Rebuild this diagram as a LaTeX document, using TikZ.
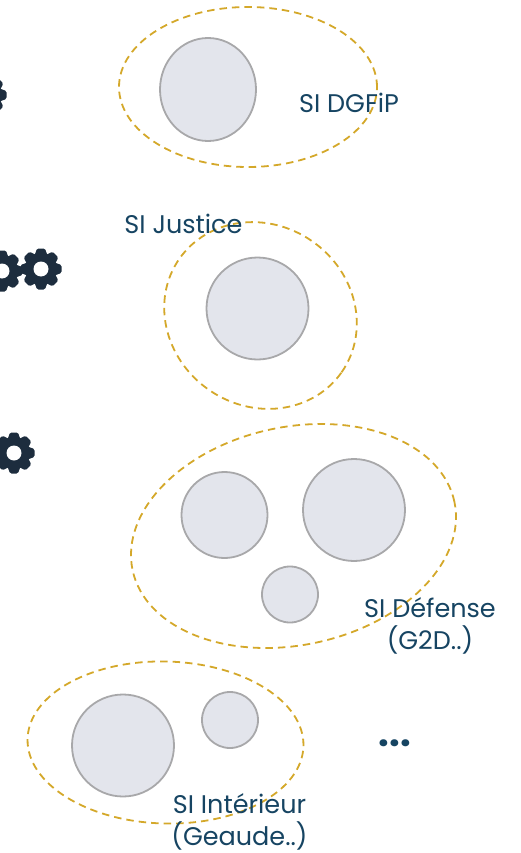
\documentclass[tikz,border=0pt]{standalone}
\usepackage{fontspec}
\setmainfont{Poppins}
\usepackage{xcolor}
\usetikzlibrary{shapes.geometric}
\definecolor{mygold}{RGB}{212,168,42}
\definecolor{mygrey}{RGB}{227,229,236}
\definecolor{myline}{RGB}{168,168,170}
\definecolor{mytext}{RGB}{22,68,98}
\definecolor{mygear}{RGB}{29,45,62}
\begin{document}
\begin{tikzpicture}[x=1pt,y=-1pt,outer sep=0pt,
zone/.style={
  draw=mygold,
  dash pattern=on 7.5pt off 5pt,
  line width=1.8pt,
  ellipse,
  inner sep=0pt},
app/.style={
  draw=myline,
  fill=mygrey,
  circle,
  line width=1.8pt,
  inner sep=0pt},
lab/.style={
  font={\fontsize{25.5}{32}\selectfont\color{mytext}},
  align=center,
  inner sep=0pt},
gear/.pic={
  \foreach \a in {0,45,...,315}
    \fill[mygear,rounded corners=1.5pt,rotate=\a] (-4,-20.5) -- (4,-20.5) -- (7,-12) -- (-7,-12) -- cycle;
  \fill[mygear] (0,0) circle (16);
  \fill[white] (0,0) circle (7.5);
},
]
\useasboundingbox (0,0) rectangle (520,853);
\pic at (-14,95) {gear};
\pic at (2,271) {gear};
\pic at (41,269) {gear};
\pic at (14,453) {gear};
% zones
\node[zone, minimum width=258pt, minimum height=160pt] (dgfip) at (248,87) {};
\node[zone, rotate=-35, minimum width=198pt, minimum height=181pt] (justice) at (260.5,315.5) {};
\node[zone, rotate=12, minimum width=329pt, minimum height=218pt] (defense) at (293.5,536) {};
\node[zone, rotate=-1.5, minimum width=276pt, minimum height=162pt] (interieur) at (165.5,742.5) {};
% applications
\node[app, ellipse, minimum width=96pt, minimum height=103pt] (a1) at (208,89.5) {};
\node[app, minimum size=102pt] (a2) at (257.5,308.5) {};
\node[app, minimum size=86pt] (a3) at (224.5,515) {};
\node[app, minimum size=102pt] (a4) at (354,510) {};
\node[app, minimum size=56pt] (a5) at (290,594.5) {};
\node[app, minimum size=102pt] (a6) at (123,745.5) {};
\node[app, minimum size=56pt] (a7) at (230,720) {};
% labels
\node[lab] (l1) at (349,103) {SI DGFiP};
\node[lab] (l2) at (183.5,224) {SI Justice};
\node[lab] (l3) at (430,626) {SI Défense\\(G2D..)};
\node[lab] (l4) at (239.5,822) {SI Intérieur\\(Geaude..)};
\node[lab, font={\fontsize{38}{38}\selectfont\bfseries\color{mytext}}] (more) at (395,743) {...};
\end{tikzpicture}
\end{document}
